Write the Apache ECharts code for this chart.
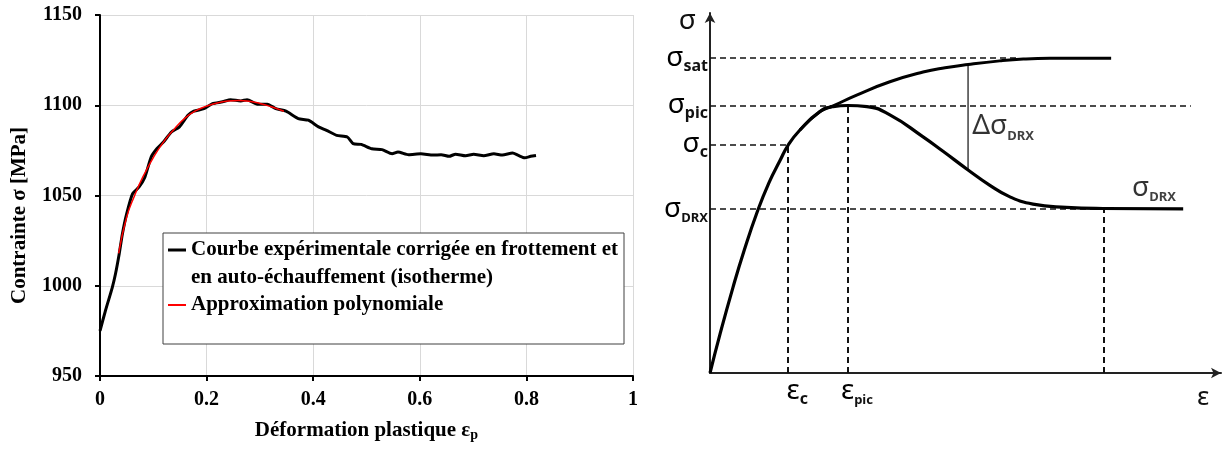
<!DOCTYPE html>
<html>
<head>
<meta charset="utf-8">
<script src="https://cdn.jsdelivr.net/npm/echarts@6/dist/echarts.min.js"></script>
<style>
html,body{margin:0;padding:0;background:#fff;}
#c{width:1223px;height:450px;}
</style>
</head>
<body>
<div id="c"></div>
<script>
// ---------- Left chart data ----------
const xTickLabels = ['0', '0.2', '0.4', '0.6', '0.8', '1'];
const yTickLabels = ['950', '1000', '1050', '1100', '1150'];
const seriesNames = ['Courbe expérimentale corrigée en frottement et\nen auto-échauffement (isotherme)', 'Approximation polynomiale'];

const expX = [0, 0.01, 0.023, 0.029, 0.036, 0.042, 0.05, 0.061, 0.073, 0.084, 0.096, 0.107, 0.119, 0.134, 0.149, 0.165, 0.176, 0.195, 0.211, 0.23, 0.245, 0.264, 0.276, 0.295, 0.314, 0.33, 0.349, 0.372, 0.391, 0.41, 0.425, 0.444, 0.464, 0.475, 0.49, 0.51, 0.529, 0.548, 0.559, 0.579, 0.602, 0.625, 0.64, 0.655, 0.667, 0.686, 0.701, 0.72, 0.739, 0.755, 0.774, 0.785, 0.797, 0.808, 0.818];
const expY = [975, 986, 999, 1006.5, 1017.6, 1028.7, 1039.8, 1050.9, 1054.6, 1060, 1071.3, 1076, 1079.6, 1085.2, 1088, 1094.4, 1096.7, 1098.1, 1100.9, 1101.9, 1103.1, 1102.4, 1103.1, 1100.6, 1100.6, 1098.1, 1096.7, 1092.6, 1091.7, 1088, 1086.1, 1083.3, 1082.4, 1078.7, 1078.3, 1075.9, 1075.4, 1073.1, 1074.1, 1072.6, 1073.1, 1072.4, 1072.6, 1071.7, 1072.9, 1072, 1072.8, 1072, 1073.1, 1072.4, 1073.5, 1072.2, 1070.9, 1071.7, 1072.2];

const polyX = [0.035, 0.05, 0.065, 0.08, 0.1, 0.12, 0.14, 0.16, 0.18, 0.2, 0.22, 0.24, 0.26, 0.28, 0.3, 0.32, 0.345];
const polyY = [1018, 1038, 1050, 1060, 1071, 1080, 1087, 1093, 1097, 1099.5, 1101.3, 1102.3, 1102.6, 1102.2, 1101, 1099.3, 1096.7];

// ---------- Right schematic data ----------
const drxX = [0, 1.96, 4.5, 6.65, 9.2, 11.55, 13.7, 15.3, 17.6, 21.5, 24.1, 27.0, 30.7, 35.2, 41.7, 45.6, 50.5, 54.7, 58.6, 63.2, 69.7, 76.9, 92.6];
const drxY = [0, 10.8, 23.8, 33.9, 44.6, 52.9, 59.0, 63.3, 67.5, 72.6, 74.0, 74.3, 74.0, 71.7, 65.6, 61.6, 56.4, 52.2, 49.0, 46.9, 46.0, 45.7, 45.6];
const satX = [17.6, 21.5, 24.1, 28.7, 35.2, 41.7, 46.0, 50.5, 56.7, 61.3, 66.5, 78.5];
const satY = [67.5, 72.6, 74.2, 77.2, 80.9, 83.6, 84.8, 85.7, 86.7, 87.2, 87.4, 87.4];

const sigmaLabels = ['{s|σ}{b|sat}', '{s|σ}{b|pic}', '{s|σ}{b|c}', '{s|σ}{d|DRX}'];
const sigmaLevels = [87.5, 74.3, 63.5, 45.6];
const sigmaDashEnd = [60, 94.1, 15.3, 77];
const epsLabels = ['{s|ε}{b|c}', '{s|ε}{d|pic}', ''];
const epsPositions = [15.3, 27.0, 77.0];
const epsDashTop = [63.5, 74.3, 45.6];
const deltaX = [50.5, 50.5];
const deltaY = [85.7, 56.4];
const noteX = [51.3, 82.6];
const noteY = [68.5, 51.5];
const noteLabels = ['{s|Δσ}{d|DRX}', '{s|σ}{d|DRX}'];

const serif = 'Liberation Serif';
const sans = 'Noto Sans';
const richSigma = {
  s: { fontFamily: sans, fontSize: 28, color: '#000', lineHeight: 32, verticalAlign: 'middle' },
  b: { fontFamily: sans, fontSize: 16, fontWeight: 'bold', color: '#111', lineHeight: 14, verticalAlign: 'bottom' },
  d: { fontFamily: sans, fontSize: 13, fontWeight: 'bold', color: '#111', lineHeight: 12, verticalAlign: 'bottom' }
};

const dashStyle = { type: [6, 4], width: 1.6, color: '#111' };

const markData = [];
sigmaLevels.forEach((lv, i) => {
  markData.push([
    { coord: [0, lv], label: { show: true, position: 'start', distance: 2, formatter: sigmaLabels[i], rich: richSigma } },
    { coord: [sigmaDashEnd[i], lv] }
  ]);
});
epsPositions.forEach((ex, i) => {
  markData.push([
    { coord: [ex, 0], label: { show: epsLabels[i] !== '', position: 'start', distance: 2, formatter: epsLabels[i], rich: richSigma, padding: [0, 0, 0, 18] }, lineStyle: { type: [6, 4], width: 2, color: '#111' } },
    { coord: [ex, epsDashTop[i]] }
  ]);
});

// legend icons: a short line placed on the first text line of each entry
const iconBlack = 'path://M0,12.5L18,12.5L18,15.5L0,15.5Z M0,0L0.01,0L0,0.01Z M18,56L17.99,56L18,55.99Z';
const iconRed = 'path://M0,27L18,27L18,29L0,29Z M0,0L0.01,0L0,0.01Z M18,56L17.99,56L18,55.99Z';

const chart = echarts.init(document.getElementById('c'), null, { renderer: 'canvas' });
chart.setOption({
  animation: false,
  backgroundColor: '#fff',
  grid: [
    { left: 100, right: 590, top: 15, bottom: 74 },
    { left: 710, right: 2, top: 13, bottom: 77 }
  ],
  legend: {
    data: [{ name: seriesNames[0], icon: iconBlack }, { name: seriesNames[1], icon: iconRed }],
    left: 163, top: 233,
    orient: 'vertical',
    backgroundColor: '#fff',
    borderColor: '#404040', borderWidth: 1, borderRadius: 0,
    padding: [3, 6, 11, 5],
    itemGap: -15, itemWidth: 18, itemHeight: 56,
    itemStyle: { borderWidth: 0 },
    textStyle: { fontFamily: serif, fontWeight: 'bold', fontSize: 21, color: '#000', lineHeight: 28 }
  },
  xAxis: [
    {
      gridIndex: 0, type: 'value', min: 0, max: 1, interval: 0.2,
      axisLine: { onZero: false, lineStyle: { color: '#000', width: 2 } },
      axisTick: { show: true, length: 5, lineStyle: { color: '#000', width: 2 } },
      splitLine: { show: true, lineStyle: { color: '#d9d9d9', width: 1 } },
      axisLabel: { color: '#000', fontFamily: serif, fontWeight: 'bold', fontSize: 20, margin: 14,
        formatter: v => xTickLabels[Math.round(v / 0.2)] },
      name: '{t|Déformation plastique ε}{p|p}',
      nameLocation: 'middle', nameGap: 44,
      nameTextStyle: { rich: {
        t: { fontFamily: serif, fontWeight: 'bold', fontSize: 21, color: '#000' },
        p: { fontFamily: serif, fontWeight: 'bold', fontSize: 14, color: '#000', verticalAlign: 'bottom', padding: [8, 0, 0, 0] }
      } }
    },
    {
      gridIndex: 1, type: 'value', min: 0, max: 100,
      axisLine: { onZero: false, symbol: ['none', 'arrow'], symbolSize: [8, 10], lineStyle: { color: '#222', width: 2 } },
      axisTick: { show: false }, axisLabel: { show: false }, splitLine: { show: false },
      name: 'ε', nameLocation: 'end', nameGap: -18,
      nameTextStyle: { fontFamily: sans, fontSize: 26, color: '#111', align: 'center', verticalAlign: 'top', padding: [12, 0, 0, 0] }
    }
  ],
  yAxis: [
    {
      gridIndex: 0, type: 'value', min: 950, max: 1150, interval: 50,
      axisLine: { lineStyle: { color: '#000', width: 2 } },
      axisTick: { show: true, length: 5, lineStyle: { color: '#000', width: 2 } },
      splitLine: { show: true, lineStyle: { color: '#d9d9d9', width: 1 } },
      axisLabel: { color: '#000', fontFamily: serif, fontWeight: 'bold', fontSize: 20, margin: 18,
        formatter: v => yTickLabels[Math.round((v - 950) / 50)] },
      name: 'Contrainte σ [MPa]', nameLocation: 'middle', nameGap: 70,
      nameTextStyle: { fontFamily: serif, fontWeight: 'bold', fontSize: 21, color: '#000', padding: [0, 40, 0, 0] }
    },
    {
      gridIndex: 1, type: 'value', min: 0, max: 100,
      axisLine: { onZero: false, symbol: ['none', 'arrow'], symbolSize: [8, 10], lineStyle: { color: '#222', width: 2 } },
      axisTick: { show: false }, axisLabel: { show: false }, splitLine: { show: false },
      name: 'σ', nameLocation: 'end', nameGap: -8,
      nameTextStyle: { fontFamily: sans, fontSize: 28, color: '#111', align: 'right', verticalAlign: 'middle', padding: [0, 14, 0, 0] }
    }
  ],
  series: [
    {
      name: seriesNames[0], type: 'line', xAxisIndex: 0, yAxisIndex: 0,
      data: expX.map((x, i) => [x, expY[i]]),
      symbol: 'none', smooth: 0.2, lineStyle: { color: '#000', width: 3 }, itemStyle: { color: '#000' }, z: 2
    },
    {
      name: seriesNames[1], type: 'line', xAxisIndex: 0, yAxisIndex: 0,
      data: polyX.map((x, i) => [x, polyY[i]]),
      symbol: 'none', smooth: true, lineStyle: { color: '#ff0000', width: 1.5 }, itemStyle: { color: '#ff0000' }, z: 3
    },
    {
      name: 'drx', type: 'line', xAxisIndex: 1, yAxisIndex: 1,
      data: drxX.map((x, i) => [x, drxY[i]]),
      symbol: 'none', smooth: true, lineStyle: { color: '#000', width: 3.2 }, z: 3,
      markLine: { silent: true, symbol: 'none', animation: false, lineStyle: dashStyle, data: markData, z: 1 }
    },
    {
      name: 'sat', type: 'line', xAxisIndex: 1, yAxisIndex: 1,
      data: satX.map((x, i) => [x, satY[i]]),
      symbol: 'none', smooth: true, lineStyle: { color: '#000', width: 3 }, z: 3
    },
    {
      name: 'delta', type: 'line', xAxisIndex: 1, yAxisIndex: 1,
      data: deltaX.map((x, i) => [x, deltaY[i]]),
      symbol: 'none', lineStyle: { color: '#222', width: 1.3 }, z: 2
    },
    {
      name: 'notes', type: 'scatter', xAxisIndex: 1, yAxisIndex: 1,
      data: noteX.map((x, i) => ({ value: [x, noteY[i]], label: { formatter: noteLabels[i] } })),
      symbolSize: 0, silent: true,
      label: { show: true, position: 'right', distance: 0, rich: richSigma }
    }
  ]
});
</script>
</body>
</html>
